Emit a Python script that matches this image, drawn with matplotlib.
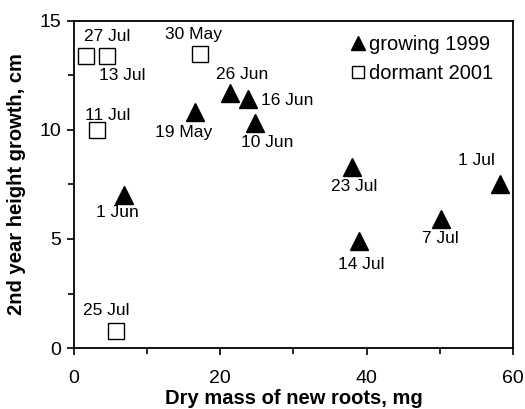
import matplotlib
matplotlib.use("Agg")
import matplotlib.pyplot as plt
from matplotlib.ticker import MultipleLocator

plt.rcParams["font.family"] = ["Liberation Sans", "DejaVu Sans"]

# growing 1999
grow_x = [6.8, 16.5, 21.3, 23.8, 24.7, 38.0, 38.9, 50.1, 58.3]
grow_y = [7.0, 10.8, 11.7, 11.4, 10.3, 8.3, 4.9, 5.9, 7.5]
grow_lab = ["1 Jun", "19 May", "26 Jun", "16 Jun", "10 Jun",
            "23 Jul", "14 Jul", "7 Jul", "1 Jul"]
grow_off = [(-6, 17), (-11, 20), (12, -18), (39, 1), (12, 19),
            (2, 19), (3, 23), (0, 19), (-24, -24)]

# dormant 2001
dorm_x = [1.6, 4.5, 17.2, 3.1, 5.7]
dorm_y = [13.4, 13.4, 13.5, 10.0, 0.8]
dorm_lab = ["27 Jul", "13 Jul", "30 May", "11 Jul", "25 Jul"]
dorm_off = [(21, -19), (15, 20), (-6, -19), (11, -14), (-9, -20)]

fig = plt.figure(figsize=(5.25, 4.09), dpi=100)
ax = fig.add_axes([0.141, 0.149, 0.836, 0.80])

ax.plot(grow_x, grow_y, ls="none", marker="^", ms=12.5, color="black",
        label="growing 1999")
ax.plot(dorm_x, dorm_y, ls="none", marker="s", ms=11, mfc="white",
        mec="black", mew=1.0, label="dormant 2001")

px = 0.72  # points per pixel
for x, y, t, (dx, dy) in zip(grow_x + dorm_x, grow_y + dorm_y,
                             grow_lab + dorm_lab, grow_off + dorm_off):
    ax.annotate(t, (x, y), xytext=(dx * px, -dy * px), textcoords="offset points",
                ha="center", va="center", fontsize=12.5)

ax.set_xlim(0, 60)
ax.set_ylim(0, 15)
ax.xaxis.set_major_locator(MultipleLocator(20))
ax.xaxis.set_minor_locator(MultipleLocator(10))
ax.yaxis.set_major_locator(MultipleLocator(5))
ax.yaxis.set_minor_locator(MultipleLocator(2.5))
ax.tick_params(which="both", direction="out", width=1.2, labelsize=14)
ax.tick_params(which="major", length=5, pad=11)
ax.tick_params(which="minor", length=4)
ax.tick_params(axis="y", which="major", pad=4)
for s in ax.spines.values():
    s.set_linewidth(1.3)

ax.set_xlabel("Dry mass of new roots, mg", fontsize=14.5, fontweight="bold",
              labelpad=1)
ax.set_ylabel("2nd year height growth, cm", fontsize=14.5, fontweight="bold",
              labelpad=10)

ax.legend(loc="upper right", bbox_to_anchor=(0.986, 1.0), frameon=False,
          fontsize=14.5, handlelength=0.6, handletextpad=0.2,
          borderaxespad=0.3, labelspacing=0.5, markerscale=0.85)

fig.savefig("out.png", dpi=100)
